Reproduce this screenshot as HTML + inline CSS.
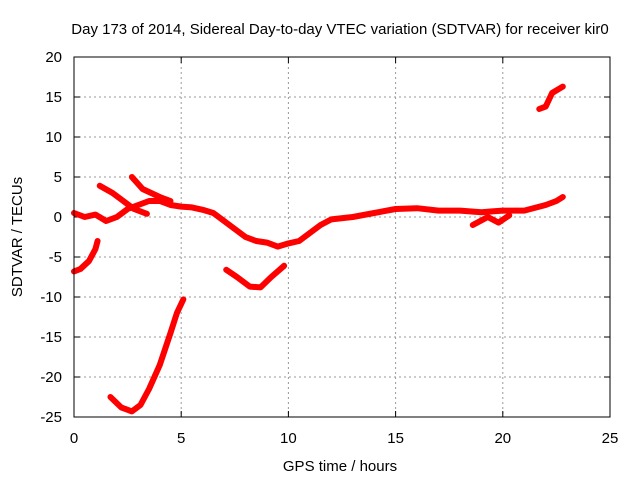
<!DOCTYPE html>
<html><head><meta charset="utf-8"><style>
body{margin:0;background:#fff}
svg{font-family:"Liberation Sans",sans-serif;font-size:15px}
</style></head><body>
<svg id="c" width="640" height="480">
<text x="340" y="34" text-anchor="middle">Day 173 of 2014, Sidereal Day-to-day VTEC variation (SDTVAR) for receiver kir0</text>
<text x="340" y="471" text-anchor="middle">GPS time / hours</text>
<text transform="translate(22,237) rotate(-90)" text-anchor="middle">SDTVAR / TECUs</text>
<g id="grid"></g><g id="data"></g>
<rect x="74" y="57" width="536" height="360" fill="none" stroke="#000"/>
</svg>
<script>
const xTicks=[0,5,10,15,20,25];
const yTicks=[20,15,10,5,0,-5,-10,-15,-20,-25];
const mainTrace=[[0,0.5],[0.5,0],[1,0.3],[1.5,-0.5],[2,0],[2.5,1],[3,1.5],[3.5,2],[4,2],[4.5,1.5],[5,1.3],[5.5,1.2],[6,0.9],[6.5,0.5],[7,-0.5],[7.5,-1.5],[8,-2.5],[8.5,-3],[9,-3.2],[9.5,-3.7],[10,-3.3],[10.5,-3],[11,-2],[11.5,-1],[12,-0.3],[13,0],[14,0.5],[15,1],[16,1.1],[17,0.8],[18,0.8],[19,0.6],[19.5,0.7],[20,0.8],[21,0.8],[22,1.5],[22.5,2],[22.8,2.5]];
const branchA=[[1.2,3.9],[1.8,3],[2.3,2],[2.8,1],[3.4,0.4]];
const branchB=[[2.7,5],[3.2,3.5],[4,2.5],[4.5,2]];
const leftSeg=[[0,-6.8],[0.3,-6.5],[0.7,-5.5],[1,-4],[1.1,-3]];
const bigDip=[[1.7,-22.5],[2.2,-23.8],[2.7,-24.3],[3.1,-23.5],[3.5,-21.5],[4,-18.5],[4.5,-14.5],[4.8,-12],[5.1,-10.3]];
const vSeg=[[7.1,-6.6],[7.6,-7.5],[8.2,-8.7],[8.7,-8.8],[9.2,-7.5],[9.8,-6.1]];
const spike19=[[18.6,-1],[19.3,0],[19.8,-0.7],[20.3,0.2]];
const topRight=[[21.7,13.5],[22,13.8],[22.3,15.5],[22.8,16.3]];
const X=v=>74+v*536/25, Y=v=>57+(20-v)*8;
const NS="http://www.w3.org/2000/svg";
const svg=document.getElementById('c'),grid=document.getElementById('grid'),data=document.getElementById('data');
function mk(t,a,p){const e=document.createElementNS(NS,t);for(const k in a)e.setAttribute(k,a[k]);p.appendChild(e);return e;}
xTicks.forEach(t=>{
 if(t>0&&t<25){const l=mk('line',{x1:X(t),x2:X(t),y1:57,y2:417,stroke:'#999','stroke-dasharray':'2,3'},grid);
 
 }
 mk('line',{x1:X(t),x2:X(t),y1:417,y2:411,stroke:'#000'},grid);
 mk('line',{x1:X(t),x2:X(t),y1:57,y2:63,stroke:'#000'},grid);
 const tx=mk('text',{x:X(t),y:443,'text-anchor':'middle'},svg);tx.textContent=t;
 
 
});
yTicks.forEach(t=>{
 if(t<20&&t>-25){const l=mk('line',{x1:74,x2:610,y1:Y(t),y2:Y(t),stroke:'#999','stroke-dasharray':'2,3'},grid);
 
 }
 mk('line',{x1:74,x2:80,y1:Y(t),y2:Y(t),stroke:'#000'},grid);
 mk('line',{x1:604,x2:610,y1:Y(t),y2:Y(t),stroke:'#000'},grid);
 const tx=mk('text',{x:62,y:Y(t)+5,'text-anchor':'end'},svg);tx.textContent=t;
 
 
});
[mainTrace,branchA,branchB,leftSeg,bigDip,vSeg,spike19,topRight].forEach(s=>{
 const p=mk('polyline',{points:s.map(d=>X(d[0])+','+Y(d[1])).join(' '),fill:'none',stroke:'#f00','stroke-width':6,'stroke-linejoin':'round','stroke-linecap':'round'},data);
 
 
});
</script>
</body></html>
